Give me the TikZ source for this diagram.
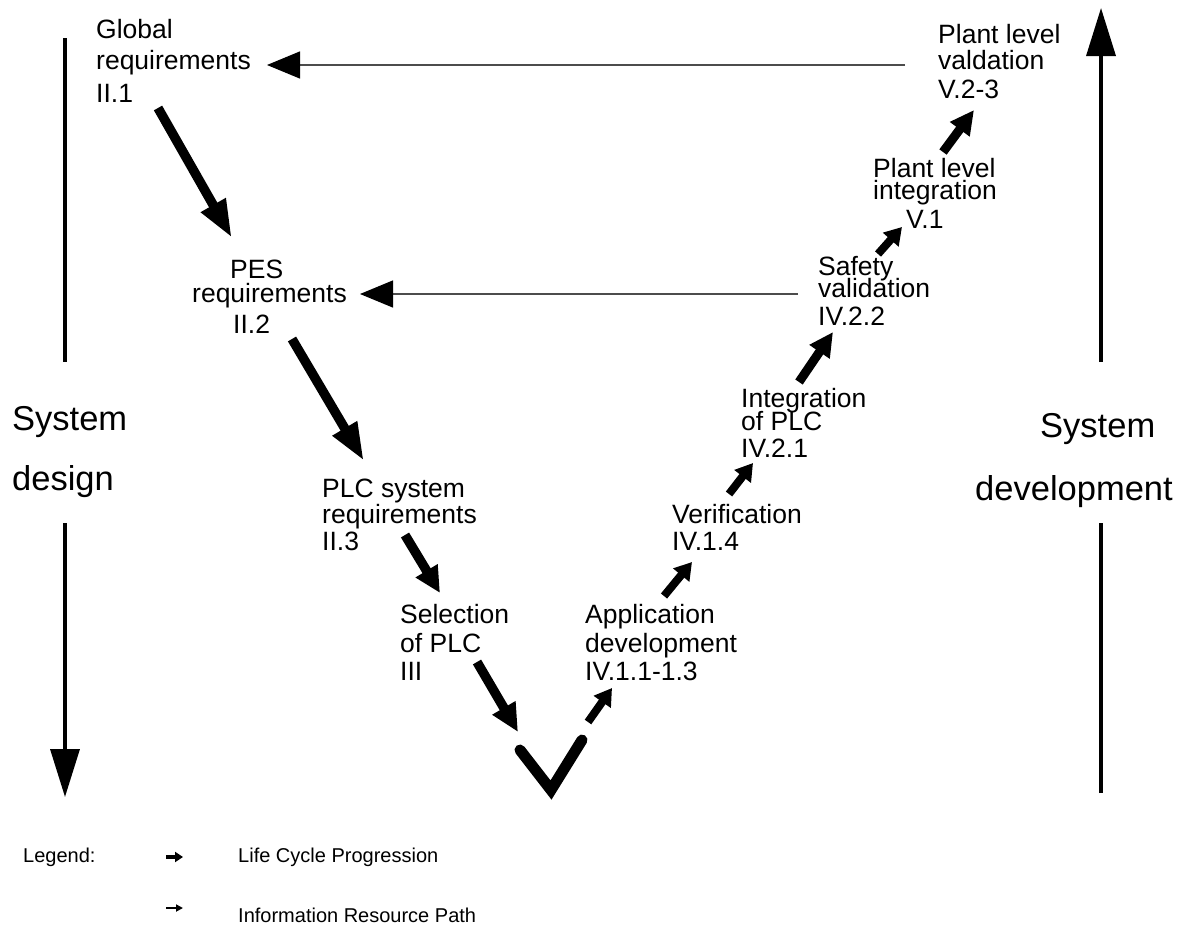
\documentclass[tikz,border=0pt]{standalone}
\usepackage{fontspec}
\setmainfont{Liberation Sans}
\usetikzlibrary{arrows.meta}

\tikzset{
  % multi-line labels are placed by the baseline of their last line
  label/.style={anchor=base west, inner sep=0pt, align=left,
    font=\fontsize{26.5}{29}\selectfont},
  sidelabel/.style={anchor=base west, inner sep=0pt,
    font=\fontsize{34.5}{40}\selectfont},
  legendtext/.style={anchor=base west, inner sep=0pt,
    font=\fontsize{20}{24}\selectfont},
  bigstep/.style={line width=9.5pt, -{Triangle[length=38pt,width=26pt]}},
  midstep/.style={line width=9pt, -{Triangle[length=24pt,width=23pt]}},
  smallstep/.style={line width=8pt, -{Triangle[length=17pt,width=20pt]}},
  infopath/.style={line width=1.3pt, draw=black!70,
    -{Triangle[length=33pt,width=27pt,black]}},
  phase/.style={line width=3.5pt},
  phasehead/.style={line width=3.5pt, -{Triangle[length=48pt,width=29pt]}}
}

\begin{document}
\begin{tikzpicture}[x=1pt,y=-1pt]
\useasboundingbox (0,0) rectangle (1193,932);

% ---- life cycle stages ----
\node[label] (glob) at (96,102) {Global\\[2pt]requirements\\[4pt]II.1};
\node[label] (pes) at (192,333) {\hspace*{38pt}PES\\[-5pt]requirements\\[2pt]\hspace*{41pt}II.2};
\node[label] (plcsys) at (322,550) {PLC system\\[-3pt]requirements\\[-2pt]II.3};
\node[label] (sel) at (400,680) {Selection\\[0pt]of PLC\\[-1pt]III};
\node[label] (app) at (585,680) {Application\\[0pt]development\\[-1pt]IV.1.1-1.3};
\node[label] (ver) at (672,550) {Verification\\[-2pt]IV.1.4};
\node[label] (integ) at (741,457) {Integration\\[-6pt]of PLC\\[-2pt]IV.2.1};
\node[label] (safe) at (818,325) {Safety\\[-7pt]validation\\[-1pt]IV.2.2};
\node[label] (pint) at (873,228) {Plant level\\[-7pt]integration\\[0pt]\hspace*{33pt}V.1};
\node[label] (pval) at (938,98) {Plant level\\[-3pt]valdation\\[0pt]V.2-3};

% ---- side captions ----
\node[sidelabel] (sd1) at (12,430) {System};
\node[sidelabel] (sd2) at (12,490) {design};
\node[sidelabel] (dv1) at (1040,437) {System};
\node[sidelabel] (dv2) at (975,500) {development};

% ---- end points of the progression arrows ----
\coordinate (a1s) at (158,108); \coordinate (a1e) at (232,238);
\coordinate (a2s) at (292,339); \coordinate (a2e) at (364,461);
\coordinate (a3s) at (405,535); \coordinate (a3e) at (440,593);
\coordinate (a4s) at (477,662); \coordinate (a4e) at (518,732);
\coordinate (a5s) at (588,722); \coordinate (a5e) at (612,688);
\coordinate (a6s) at (664,596); \coordinate (a6e) at (692,562);
\coordinate (a7s) at (729,494); \coordinate (a7e) at (753,463);
\coordinate (a8s) at (799,382); \coordinate (a8e) at (833,332);
\coordinate (a9s) at (878,254); \coordinate (a9e) at (902,227);
\coordinate (a10s) at (943,152); \coordinate (a10e) at (974,110);

% ---- the turning point at the bottom ----
\coordinate (vl) at (520,750);
\coordinate (vb) at (551,790);
\coordinate (vr) at (582,740);
\draw[line width=11pt, line cap=round, line join=miter] (vl) -- (vb) -- (vr);

% ---- life cycle progression ----
\draw[bigstep] (a1s) -- (a1e);
\draw[bigstep] (a2s) -- (a2e);
\draw[bigstep, -{Triangle[length=26pt,width=24pt]}] (a3s) -- (a3e);
\draw[bigstep, -{Triangle[length=28pt,width=25pt]}] (a4s) -- (a4e);
\draw[smallstep] (a5s) -- (a5e);
\draw[smallstep] (a6s) -- (a6e);
\draw[smallstep] (a7s) -- (a7e);
\draw[midstep] (a8s) -- (a8e);
\draw[smallstep] (a9s) -- (a9e);
\draw[midstep] (a10s) -- (a10e);

% ---- information resource paths ----
\coordinate (i1s) at (905,65); \coordinate (i1e) at (267,65);
\coordinate (i2s) at (798,294); \coordinate (i2e) at (360,294);
\draw[infopath] (i1s) -- (i1e);
\draw[infopath] (i2s) -- (i2e);

% ---- phase axes ----
\coordinate (l1) at (65,38);   \coordinate (l2) at (65,362);
\coordinate (l3) at (65,523);  \coordinate (l4) at (65,797);
\coordinate (r1) at (1101,793); \coordinate (r2) at (1101,523);
\coordinate (r3) at (1101,362); \coordinate (r4) at (1101,8);
\draw[phase] (l1) -- (l2);
\draw[phasehead] (l3) -- (l4);
\draw[phase] (r1) -- (r2);
\draw[phasehead] (r3) -- (r4);

% ---- legend ----
\node[legendtext] (leg) at (23,862) {Legend:};
\coordinate (k1s) at (166,857); \coordinate (k1e) at (183,857);
\coordinate (k2s) at (166,908); \coordinate (k2e) at (183,908);
\draw[line width=4.5pt, -{Triangle[length=8pt,width=10pt]}] (k1s) -- (k1e);
\draw[line width=1.8pt, -{Triangle[length=7pt,width=7pt]}] (k2s) -- (k2e);
\node[legendtext] (lcp) at (238,862) {Life Cycle Progression};
\node[legendtext] (irp) at (238,922) {Information Resource Path};
\end{tikzpicture}
\end{document}
